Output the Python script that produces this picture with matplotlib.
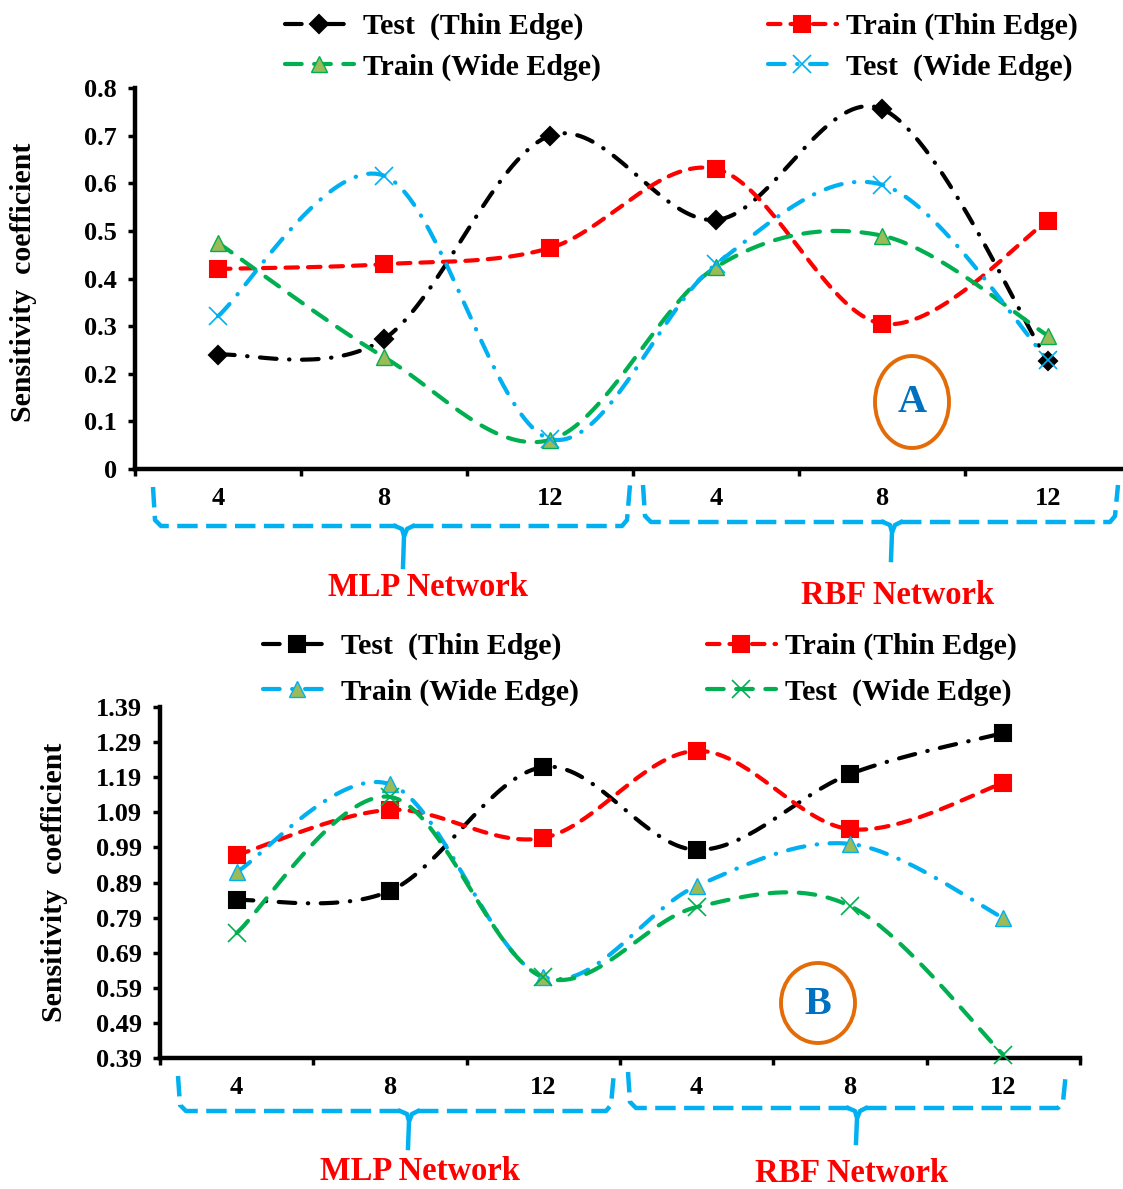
import numpy as np
import matplotlib
matplotlib.use("Agg")
import matplotlib.pyplot as plt
from matplotlib.lines import Line2D
from matplotlib.patches import Ellipse

plt.rcParams['font.family'] = ['Liberation Serif', 'DejaVu Serif']
plt.rcParams['font.weight'] = 'bold'

# ---------------- data ----------------
x_labels = ["4", "8", "12", "4", "8", "12"]
groups = ["MLP Network", "RBF Network"]

# Panel A
a_test_thin = [0.24, 0.273, 0.70, 0.523, 0.756, 0.227]
a_train_thin = [0.42, 0.43, 0.464, 0.63, 0.305, 0.521]
a_train_wide = [0.475, 0.235, 0.061, 0.424, 0.49, 0.28]
a_test_wide = [0.321, 0.616, 0.063, 0.43, 0.597, 0.229]

# Panel B
b_test_thin = [0.840, 0.866, 1.219, 0.983, 1.199, 1.316]
b_train_thin = [0.968, 1.097, 1.017, 1.265, 1.042, 1.173]
b_train_wide = [0.92, 1.17, 0.621, 0.88, 1.0, 0.789]
b_test_wide = [0.746, 1.134, 0.62, 0.82, 0.823, 0.399]

a_yticks = [0, 0.1, 0.2, 0.3, 0.4, 0.5, 0.6, 0.7, 0.8]
a_yticklabels = ["0", "0.1", "0.2", "0.3", "0.4", "0.5", "0.6", "0.7", "0.8"]
b_yticks = [0.39, 0.49, 0.59, 0.69, 0.79, 0.89, 0.99, 1.09, 1.19, 1.29, 1.39]
b_yticklabels = ["0.39", "0.49", "0.59", "0.69", "0.79", "0.89", "0.99", "1.09", "1.19", "1.29", "1.39"]

# ---------------- styles ----------------
BLACK = "#000000"
RED = "#FF0000"
GREEN = "#00B050"
CYAN = "#00B0F0"
OLIVE = "#9BBB59"
ORANGE = "#E36C09"
BLUE = "#0070C0"

W, H = 1123, 1189
fig = plt.figure(figsize=(W / 100, H / 100), dpi=100)


def fx(px):
    return px / W


def fy(py):
    return 1 - py / H


def smooth(xs, ys, n=40):
    pts = np.column_stack([xs, ys]).astype(float)
    P = np.vstack([pts[0], pts, pts[-1]])
    out = []
    for i in range(len(pts) - 1):
        p0, p1, p2, p3 = P[i], P[i + 1], P[i + 2], P[i + 3]
        c1 = p1 + (p2 - p0) / 6
        c2 = p2 - (p3 - p1) / 6
        t = np.linspace(0, 1, n)[:, None]
        b = (1 - t) ** 3 * p1 + 3 * (1 - t) ** 2 * t * c1 + 3 * (1 - t) * t ** 2 * c2 + t ** 3 * p2
        out.append(b if i == 0 else b[1:])
    return np.vstack(out)


LW = 3.0
DASHDOT = (0, (4, 3.0, 0.1, 3.0))
DASHED_RED = (0, (3.0, 2.4))
DASHED_GREEN = (0, (4.0, 3.0))

TICK_FS = 19
LEG_FS = 21.5
NET_FS = 23.5
YL_FS = 21.5


def plot_series(ax, ys, color, ls, marker, mfc, mec, ms, mew=1.5):
    xs = np.arange(len(ys))
    c = smooth(xs, ys)
    ax.plot(c[:, 0], c[:, 1], color=color, lw=LW, linestyle=ls,
            dash_capstyle='round', solid_capstyle='round', zorder=3, clip_on=False)
    ax.plot(xs, ys, linestyle='none', marker=marker, ms=ms, mfc=mfc, mec=mec,
            mew=mew, zorder=4, clip_on=False)
    return Line2D([], [], color=color, lw=LW, linestyle=ls, dash_capstyle='round',
                  marker=marker, ms=ms, mfc=mfc, mec=mec, mew=mew)


def style_axes(ax, yticks, yticklabels, ylim):
    ax.set_xlim(-0.5, 5.5)
    ax.set_ylim(*ylim)
    for s in ['top', 'right']:
        ax.spines[s].set_visible(False)
    for s in ['left', 'bottom']:
        ax.spines[s].set_linewidth(3.2)
        ax.spines[s].set_capstyle('projecting')
    ax.set_yticks(yticks)
    ax.set_yticklabels(yticklabels, fontsize=TICK_FS, fontweight='bold')
    ax.tick_params(axis='y', direction='out', length=5, width=2.5, pad=8)
    ax.set_xticks(np.arange(-0.5, 6.0, 1.0))
    ax.set_xticklabels([])
    ax.tick_params(axis='x', which='major', direction='out', length=5, width=2.5)
    ax.set_xticks(np.arange(6), minor=True)
    ax.set_xticklabels(x_labels, minor=True, fontsize=TICK_FS, fontweight='bold')
    ax.tick_params(axis='x', which='minor', length=0, pad=13)
    ax.patch.set_alpha(0)


def bracket(pts, color=CYAN, ls=(0, (4.6, 1.9))):
    xs = [fx(p[0]) for p in pts]
    ys = [fy(p[1]) for p in pts]
    fig.add_artist(Line2D(xs, ys, color=color, lw=3.2, linestyle=ls,
                          dash_capstyle='butt', transform=fig.transFigure))


def full_bracket(x0, x1, xm, ytop0, ytop1, ybar, ystem):
    bracket([(x0, ytop0), (x0 + 2, ybar - 6), (x0 + 8, ybar), (xm - 8, ybar)])
    bracket([(xm + 8, ybar), (x1 - 8, ybar), (x1 - 3, ybar - 6), (x1, ytop1)])
    bracket([(xm - 10, ybar), (xm - 3, ybar + 3), (xm - 1, ybar + 10),
             (xm - 2, ystem)], ls='-')
    bracket([(xm + 8, ybar), (xm + 2, ybar + 3), (xm, ybar + 8)], ls='-')


# ---------------- Panel A ----------------
axA = fig.add_axes([fx(135), fy(469), fx(1131) - fx(135), fy(88) - fy(469)])
hA1 = plot_series(axA, a_test_thin, BLACK, DASHDOT, 'D', BLACK, BLACK, 9)
hA2 = plot_series(axA, a_train_thin, RED, DASHED_RED, 's', RED, RED, 11)
hA3 = plot_series(axA, a_train_wide, GREEN, DASHED_GREEN, '^', OLIVE, GREEN, 12, 1.0)
hA4 = plot_series(axA, a_test_wide, CYAN, DASHDOT, 'x', 'none', CYAN, 13, 1.2)
style_axes(axA, a_yticks, a_yticklabels, (0, 0.8))
axA.set_ylabel("Sensitivity  coefficient", fontsize=YL_FS, fontweight='bold')
axA.yaxis.set_label_coords(-0.098, 0.49)

fig.legend([hA1, hA3, hA2, hA4],
           ["Test  (Thin Edge)", "Train (Wide Edge)", "Train (Thin Edge)", "Test  (Wide Edge)"],
           ncol=2, loc='upper left', bbox_to_anchor=(fx(285), fy(13)), frameon=False,
           prop={'family': 'Liberation Serif', 'weight': 'bold', 'size': LEG_FS},
           handlelength=2.3, handletextpad=0.3, columnspacing=5.6, labelspacing=0.45,
           borderpad=0, borderaxespad=0)

fig.add_artist(Ellipse((fx(912), fy(402)), 74 / W, 92 / H, transform=fig.transFigure,
                       fill=False, ec=ORANGE, lw=2.8))
fig.text(fx(912), fy(403), "A", color=BLUE, fontsize=29, fontweight='bold',
         ha='center', va='center')

full_bracket(153, 630, 405, 487, 485, 526, 567)
full_bracket(643, 1118, 893, 485, 485, 522, 560)
fig.text(fx(428), fy(588), groups[0], color=RED, fontsize=NET_FS, fontweight='bold',
         ha='center', va='center')
fig.text(fx(898), fy(596), groups[1], color=RED, fontsize=NET_FS, fontweight='bold',
         ha='center', va='center')

# ---------------- Panel B ----------------
axB = fig.add_axes([fx(160), fy(1058), fx(1080) - fx(160), fy(707) - fy(1058)])
hB1 = plot_series(axB, b_test_thin, BLACK, DASHDOT, 's', BLACK, BLACK, 11)
hB2 = plot_series(axB, b_train_thin, RED, DASHED_RED, 's', RED, RED, 11)
hB3 = plot_series(axB, b_train_wide, CYAN, DASHDOT, '^', OLIVE, CYAN, 12, 1.0)
hB4 = plot_series(axB, b_test_wide, GREEN, DASHED_GREEN, 'x', 'none', GREEN, 13, 1.2)
style_axes(axB, b_yticks, b_yticklabels, (0.39, 1.39))
axB.set_ylabel("Sensitivity  coefficient", fontsize=YL_FS, fontweight='bold')
axB.yaxis.set_label_coords(-0.10, 0.5)

fig.legend([hB1, hB3, hB2, hB4],
           ["Test  (Thin Edge)", "Train (Wide Edge)", "Train (Thin Edge)", "Test  (Wide Edge)"],
           ncol=2, loc='upper left', bbox_to_anchor=(fx(263), fy(633)), frameon=False,
           prop={'family': 'Liberation Serif', 'weight': 'bold', 'size': LEG_FS},
           handlelength=2.3, handletextpad=0.3, columnspacing=4.3, labelspacing=0.6,
           borderpad=0, borderaxespad=0)

fig.add_artist(Ellipse((fx(818), fy(1003)), 74 / W, 80 / H, transform=fig.transFigure,
                       fill=False, ec=ORANGE, lw=2.8))
fig.text(fx(818), fy(1004), "B", color=BLUE, fontsize=29, fontweight='bold',
         ha='center', va='center')

full_bracket(178, 614, 410, 1076, 1072, 1111, 1148)
full_bracket(628, 1066, 858, 1072, 1072, 1108, 1143)
fig.text(fx(420), fy(1171), groups[0], color=RED, fontsize=NET_FS, fontweight='bold',
         ha='center', va='center')
fig.text(fx(852), fy(1174), groups[1], color=RED, fontsize=NET_FS, fontweight='bold',
         ha='center', va='center')

fig.savefig("out.png", dpi=100)
